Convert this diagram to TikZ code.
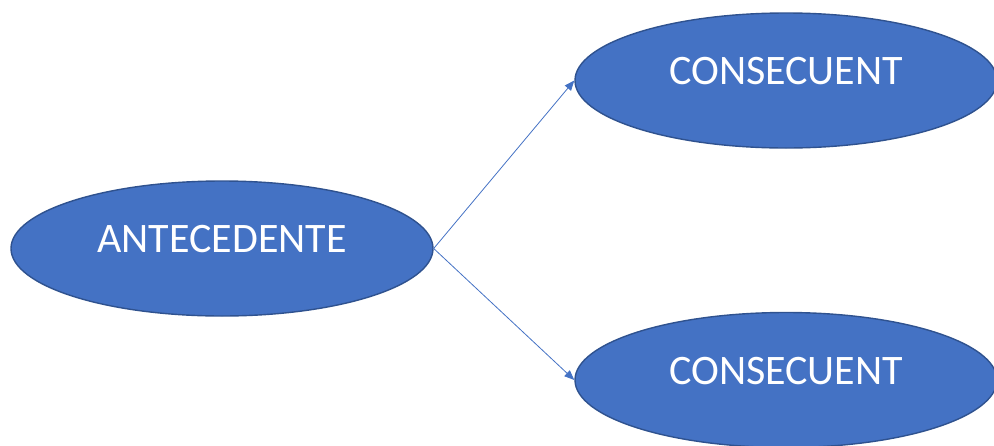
\documentclass[tikz,border=0pt]{standalone}
\usepackage{fontspec}
\setmainfont{Carlito}
\usetikzlibrary{arrows.meta,positioning,shapes.geometric}
\definecolor{fillblue}{HTML}{4472C4}
\definecolor{lineblue}{HTML}{2F528F}

\begin{document}
\begin{tikzpicture}[
    x=1pt,y=-1pt,
    v/.style={ellipse,draw=lineblue,fill=fillblue,line width=1.4pt,minimum width=422pt,minimum height=135pt,inner sep=0pt},
    lbl/.style={text=white,font=\fontsize{42}{50}\selectfont,inner sep=0pt},
    e/.style={-{Triangle[length=10pt,width=8pt]},line width=0.8pt,fillblue}
  ]
    \useasboundingbox (0,0) rectangle (994,445);
    \clip (0,0) rectangle (994,445);
    \node[v] (ante) at (222,248.5) {};
    \node[v] (cons1) at (786,80.5) {};
    \node[v] (cons2) at (786,380) {};
    \node[lbl] (tante) at ([yshift=9pt]ante.center) {ANTECEDENTE};
    \node[lbl] (tcons1) at ([yshift=9pt]cons1.center) {CONSECUENT};
    \node[lbl] (tcons2) at ([yshift=9pt]cons2.center) {CONSECUENT};
    \draw[e] (ante.east)--(cons1.west);
    \draw[e] (ante.east)--(cons2.west);
  \end{tikzpicture}
\end{document}
